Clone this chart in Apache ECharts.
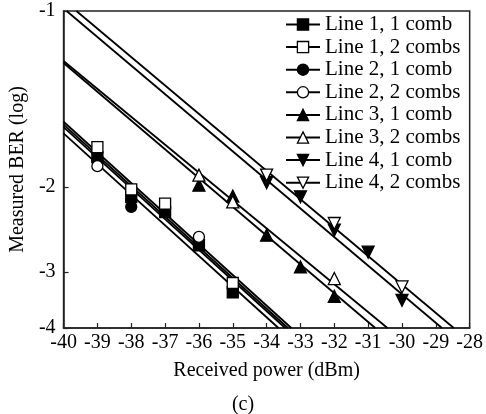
<!DOCTYPE html>
<html><head><meta charset="utf-8">
<script src="https://cdn.jsdelivr.net/npm/echarts@6/dist/echarts.min.js"></script>
<style>html,body{margin:0;padding:0;background:#fff}#c{width:486px;height:414px}</style>
</head><body><div id="c"></div>
<script>
// ---- data (x: received power dBm, y: log10 BER) ----
const xMin = -40, xMax = -28, xInterval = 1;
const yTickValues = [-1, -2, -3, -4];
const yTickLabels = ['-1', '-2', '-3', '-4'];
const seriesNames = ['Line 1, 1 comb', 'Line 1, 2 combs', 'Line 2, 1 comb', 'Line 2, 2 combs',
                     'Linc 3, 1 comb', 'Line 3, 2 combs', 'Line 4, 1 comb', 'Line 4, 2 combs'];
// measured points
const pts_l1c1 = [[-39, -1.749], [-38, -2.094], [-37, -2.246], [-36, -2.632], [-35, -3.327]];
const pts_l1c2 = [[-39, -1.675], [-38, -2.021], [-37, -2.157], [-35, -3.174]];
const pts_l2c1 = [[-39, -1.773], [-38, -2.191]];
const pts_l2c2 = [[-39, -1.820], [-36, -2.527]];
const pts_l3c1 = [[-36, -1.982], [-35, -2.084], [-34, -2.506], [-33, -2.929], [-32, -3.395]];
const pts_l3c2 = [[-36, -1.894], [-35, -2.140], [-32, -3.104]];
const pts_l4c1 = [[-34, -1.960], [-33, -2.091], [-32, -2.447], [-31, -2.723], [-30, -3.466]];
const pts_l4c2 = [[-34, -1.894], [-32, -2.370], [-30, -3.238]];
// fitted lines (endpoints)
const fit_l1c1 = [[-40, -1.523], [-33.37, -4]];
const fit_l1c2 = [[-40, -1.505], [-33.27, -4]];
const fit_l2c1 = [[-40, -1.580], [-33.65, -4]];
const fit_l2c2 = [[-40, -1.539], [-33.45, -4]];
const fit_l3c1 = [[-40, -1.197], [-30.79, -4]];
const fit_l3c2 = [[-40, -1.188], [-30.43, -4]];
const fit_l4c1 = [[-39.91, -1], [-28.82, -4]];
const fit_l4c2 = [[-39.62, -1], [-28.47, -4]];

const points = [pts_l1c1, pts_l1c2, pts_l2c1, pts_l2c2, pts_l3c1, pts_l3c2, pts_l4c1, pts_l4c2];
const fits = [fit_l1c1, fit_l1c2, fit_l2c1, fit_l2c2, fit_l3c1, fit_l3c2, fit_l4c1, fit_l4c2];
const symbols = ['rect', 'rect', 'circle', 'circle', 'triangle', 'triangle', 'triangle', 'triangle'];
const rotations = [0, 0, 0, 0, 0, 0, 180, 180];
const filled = [true, false, true, false, true, false, true, false];
const sizes = [11, 11, 11, 11, 12, 12, 12, 12];

// BER axis scale of the figure
const T = v => -Math.log10(-v - 0.45);
const tr = arr => arr.map(p => [p[0], T(p[1])]);
const yTickPos = yTickValues.map(T);

const FONT = 'Liberation Serif';
const series = [];
seriesNames.forEach((name, i) => {
  series.push({
    name, type: 'line', data: tr(fits[i]), symbol: symbols[i], symbolRotate: rotations[i],
    showSymbol: false, silent: true, z: 2,
    lineStyle: { color: '#000', width: 1.8 },
    itemStyle: { color: filled[i] ? '#000' : '#fff', borderColor: '#000', borderWidth: 1.3 }
  });
});
seriesNames.forEach((name, i) => {
  series.push({
    name, type: 'scatter', data: tr(points[i]), symbol: symbols[i], symbolRotate: rotations[i],
    symbolSize: sizes[i], silent: true, z: filled[i] ? 3 : 4,
    itemStyle: { color: filled[i] ? '#000' : '#fff', borderColor: '#000', borderWidth: 1.3, opacity: 1 }
  });
});

const chart = echarts.init(document.getElementById('c'), null, { renderer: 'canvas' });
chart.setOption({
  animation: false,
  backgroundColor: '#fff',
  textStyle: { fontFamily: FONT },
  grid: { left: 62, right: 15, top: 11, bottom: 86, show: true, borderColor: '#222', borderWidth: 1.5 },
  legend: {
    data: seriesNames, orient: 'vertical', left: 280, top: 9, padding: 5,
    itemWidth: 34, itemHeight: 14, itemGap: 1.6,
    textStyle: { fontFamily: FONT, fontSize: 21, color: '#000' },
    itemStyle: { borderWidth: 1.3 }
  },
  xAxis: {
    type: 'value', min: xMin, max: xMax, interval: xInterval,
    name: 'Received power (dBm)', nameLocation: 'middle', nameGap: 33,
    nameTextStyle: { fontFamily: FONT, fontSize: 20, color: '#000' },
    axisLine: { onZero: false, lineStyle: { color: '#222', width: 1.5 } },
    axisTick: { inside: true, length: 5, lineStyle: { color: '#222', width: 1.2 } },
    axisLabel: { fontFamily: FONT, fontSize: 20, color: '#000', margin: 5 },
    splitLine: { show: false }
  },
  yAxis: {
    type: 'value', min: T(-4), max: T(-1),
    name: 'Measured BER (log)', nameLocation: 'middle', nameGap: 28,
    nameTextStyle: { fontFamily: FONT, fontSize: 20, color: '#000' },
    axisLine: { onZero: false, lineStyle: { color: '#222', width: 1.5 } },
    axisTick: { inside: true, length: 5, customValues: yTickPos, lineStyle: { color: '#222', width: 1.2 } },
    axisLabel: {
      fontFamily: FONT, fontSize: 20, color: '#000', margin: 8, customValues: yTickPos,
      formatter: val => {
        let best = 0;
        yTickPos.forEach((p, k) => { if (Math.abs(p - val) < Math.abs(yTickPos[best] - val)) best = k; });
        return yTickLabels[best];
      }
    },
    splitLine: { show: false }
  },
  graphic: [{ type: 'text', left: 'center', top: 395, style: { text: '(c)', font: '20px "Liberation Serif"', fill: '#000' } }],
  series
});
</script></body></html>
